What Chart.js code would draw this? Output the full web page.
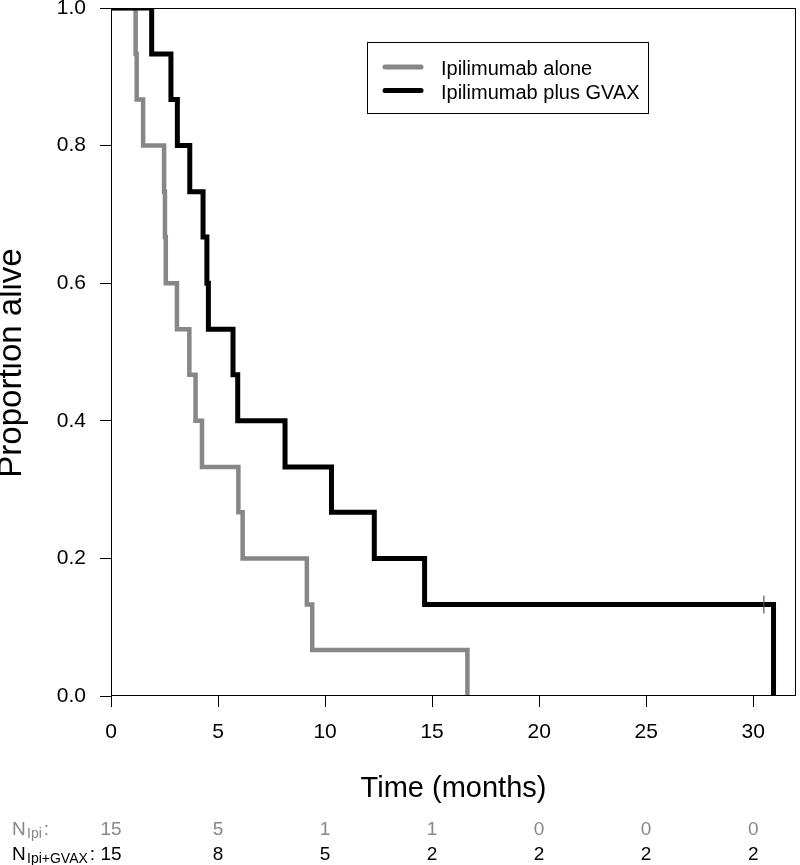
<!DOCTYPE html>
<html>
<head>
<meta charset="utf-8">
<script src="https://cdn.jsdelivr.net/npm/chart.js@4.4.0/dist/chart.umd.min.js"></script>
<style>
  body { margin: 0; background: #fff; }
  canvas { display: block; }
</style>
</head>
<body>
<canvas id="km" width="800" height="865"></canvas>
<script>
const GRIS = '#878787';
const FUENTE = '"Liberation Sans", Arial, Helvetica, sans-serif';

// curvas de Kaplan-Meier (meses, proporcion viva)
const ipiT = [0, 1.15, 1.2, 1.5, 2.48, 2.52, 2.56, 3.08, 3.66, 3.95, 4.25, 5.95, 6.15, 9.15, 9.4, 16.65];
const ipiS = [1, 0.933, 0.867, 0.8, 0.733, 0.667, 0.6, 0.533, 0.467, 0.4, 0.333, 0.267, 0.2, 0.133, 0.067, 0];
const gvaxT = [0, 1.9, 2.8, 3.1, 3.68, 4.3, 4.48, 4.55, 5.7, 5.92, 8.13, 10.3, 12.3, 14.65, 30.95];
const gvaxS = [1, 0.933, 0.867, 0.8, 0.733, 0.667, 0.6, 0.533, 0.467, 0.4, 0.333, 0.267, 0.2, 0.133, 0];
const censorT = [30.5];
const censorS = [0.133];

const nombres = ['Ipilimumab alone', 'Ipilimumab plus GVAX'];

const xTicks = [0, 5, 10, 15, 20, 25, 30];
const yTicks = [0, 0.2, 0.4, 0.6, 0.8, 1.0];

// pacientes en riesgo
const riesgoT = [0, 5, 10, 15, 20, 25, 30];
const riesgoIpi = [15, 5, 1, 1, 0, 0, 0];
const riesgoGvax = [15, 8, 5, 2, 2, 2, 2];

const puntos = (ts, ss) => ts.map((t, i) => ({ x: t, y: ss[i] }));

const extras = {
  id: 'extras',
  afterDraw(chart) {
    const { ctx, chartArea: a, scales } = chart;
    ctx.save();

    // caja
    ctx.strokeStyle = '#000';
    ctx.lineWidth = 1;
    ctx.strokeRect(a.left + 0.5, a.top + 0.5, a.right - a.left - 1, a.bottom - a.top - 1);

    // leyenda
    ctx.strokeRect(367.5, 42.5, 281, 71);
    const colores = [GRIS, '#000'];
    const filas = [75, 98.5];
    ctx.lineCap = 'round';
    ctx.font = '20px ' + FUENTE;
    ctx.fillStyle = '#000';
    ctx.textAlign = 'left';
    ctx.textBaseline = 'alphabetic';
    nombres.forEach((n, i) => {
      ctx.strokeStyle = colores[i];
      ctx.lineWidth = 5;
      ctx.beginPath();
      ctx.moveTo(385, filas[i] - 8);
      ctx.lineTo(421, filas[i] - 8);
      ctx.stroke();
      ctx.fillText(n, 441, filas[i]);
    });

    // titulos de ejes
    ctx.font = '29px ' + FUENTE;
    ctx.textAlign = 'center';
    ctx.fillText('Time (months)', (a.left + a.right) / 2, 797);
    ctx.save();
    ctx.translate(21, 363);
    ctx.rotate(-Math.PI / 2);
    ctx.font = '33px ' + FUENTE;
    ctx.fillText('Proportion alive', 0, 0);
    ctx.restore();

    // tabla de riesgo
    const etiqueta = (sub, y, color) => {
      ctx.fillStyle = color;
      ctx.textAlign = 'left';
      ctx.font = '19px ' + FUENTE;
      ctx.fillText('N', 12, y);
      ctx.font = '14px ' + FUENTE;
      ctx.fillText(sub, 27, y + 3);
      const w = ctx.measureText(sub).width;
      ctx.font = '19px ' + FUENTE;
      ctx.fillText(':', 29 + w, y);
    };
    etiqueta('Ipi', 835, GRIS);
    etiqueta('Ipi+GVAX', 860, '#000');
    ctx.font = '19px ' + FUENTE;
    ctx.textAlign = 'center';
    riesgoT.forEach((t, i) => {
      const x = scales.x.getPixelForValue(t);
      ctx.fillStyle = GRIS;
      ctx.fillText(String(riesgoIpi[i]), x, 835);
      ctx.fillStyle = '#000';
      ctx.fillText(String(riesgoGvax[i]), x, 860);
    });
    ctx.restore();
  }
};

new Chart(document.getElementById('km'), {
  type: 'line',
  data: {
    datasets: [
      {
        label: nombres[0], data: puntos(ipiT, ipiS), stepped: true,
        borderColor: GRIS, borderWidth: 4.5, pointRadius: 0, order: 2,
        borderJoinStyle: 'miter', borderCapStyle: 'butt'
      },
      {
        label: nombres[1], data: puntos(gvaxT, gvaxS), stepped: true,
        borderColor: '#000', borderWidth: 5, pointRadius: 0, order: 1,
        borderJoinStyle: 'miter', borderCapStyle: 'butt'
      },
      {
        label: 'censor', data: puntos(censorT, censorS), showLine: false,
        pointStyle: 'line', rotation: 90, pointRadius: 9,
        borderColor: '#555', borderWidth: 1.2, order: 0
      }
    ]
  },
  options: {
    responsive: false,
    animation: false,
    layout: { autoPadding: false, padding: { top: 8, right: 4, left: 0, bottom: 0 } },
    plugins: { legend: { display: false }, tooltip: { enabled: false } },
    scales: {
      x: {
        type: 'linear', min: 0, max: 32,
        afterBuildTicks: s => { s.ticks = xTicks.map(v => ({ value: v })); },
        afterFit: s => { s.height = 169; s.paddingLeft = 0; s.paddingRight = 0; },
        border: { display: false },
        grid: { drawOnChartArea: false, tickLength: 11, color: '#000', lineWidth: 1 },
        ticks: { color: '#000', font: { size: 21, family: FUENTE }, padding: 13, maxRotation: 0 }
      },
      y: {
        type: 'linear', min: 0, max: 1,
        afterBuildTicks: s => { s.ticks = yTicks.map(v => ({ value: v })); },
        afterFit: s => { s.width = 111; s.paddingTop = 0; s.paddingBottom = 0; },
        border: { display: false },
        grid: { drawOnChartArea: false, tickLength: 11, color: '#000', lineWidth: 1 },
        ticks: { color: '#000', font: { size: 21, family: FUENTE }, padding: 14, callback: v => v.toFixed(1) }
      }
    }
  },
  plugins: [extras]
});
</script>
</body>
</html>
